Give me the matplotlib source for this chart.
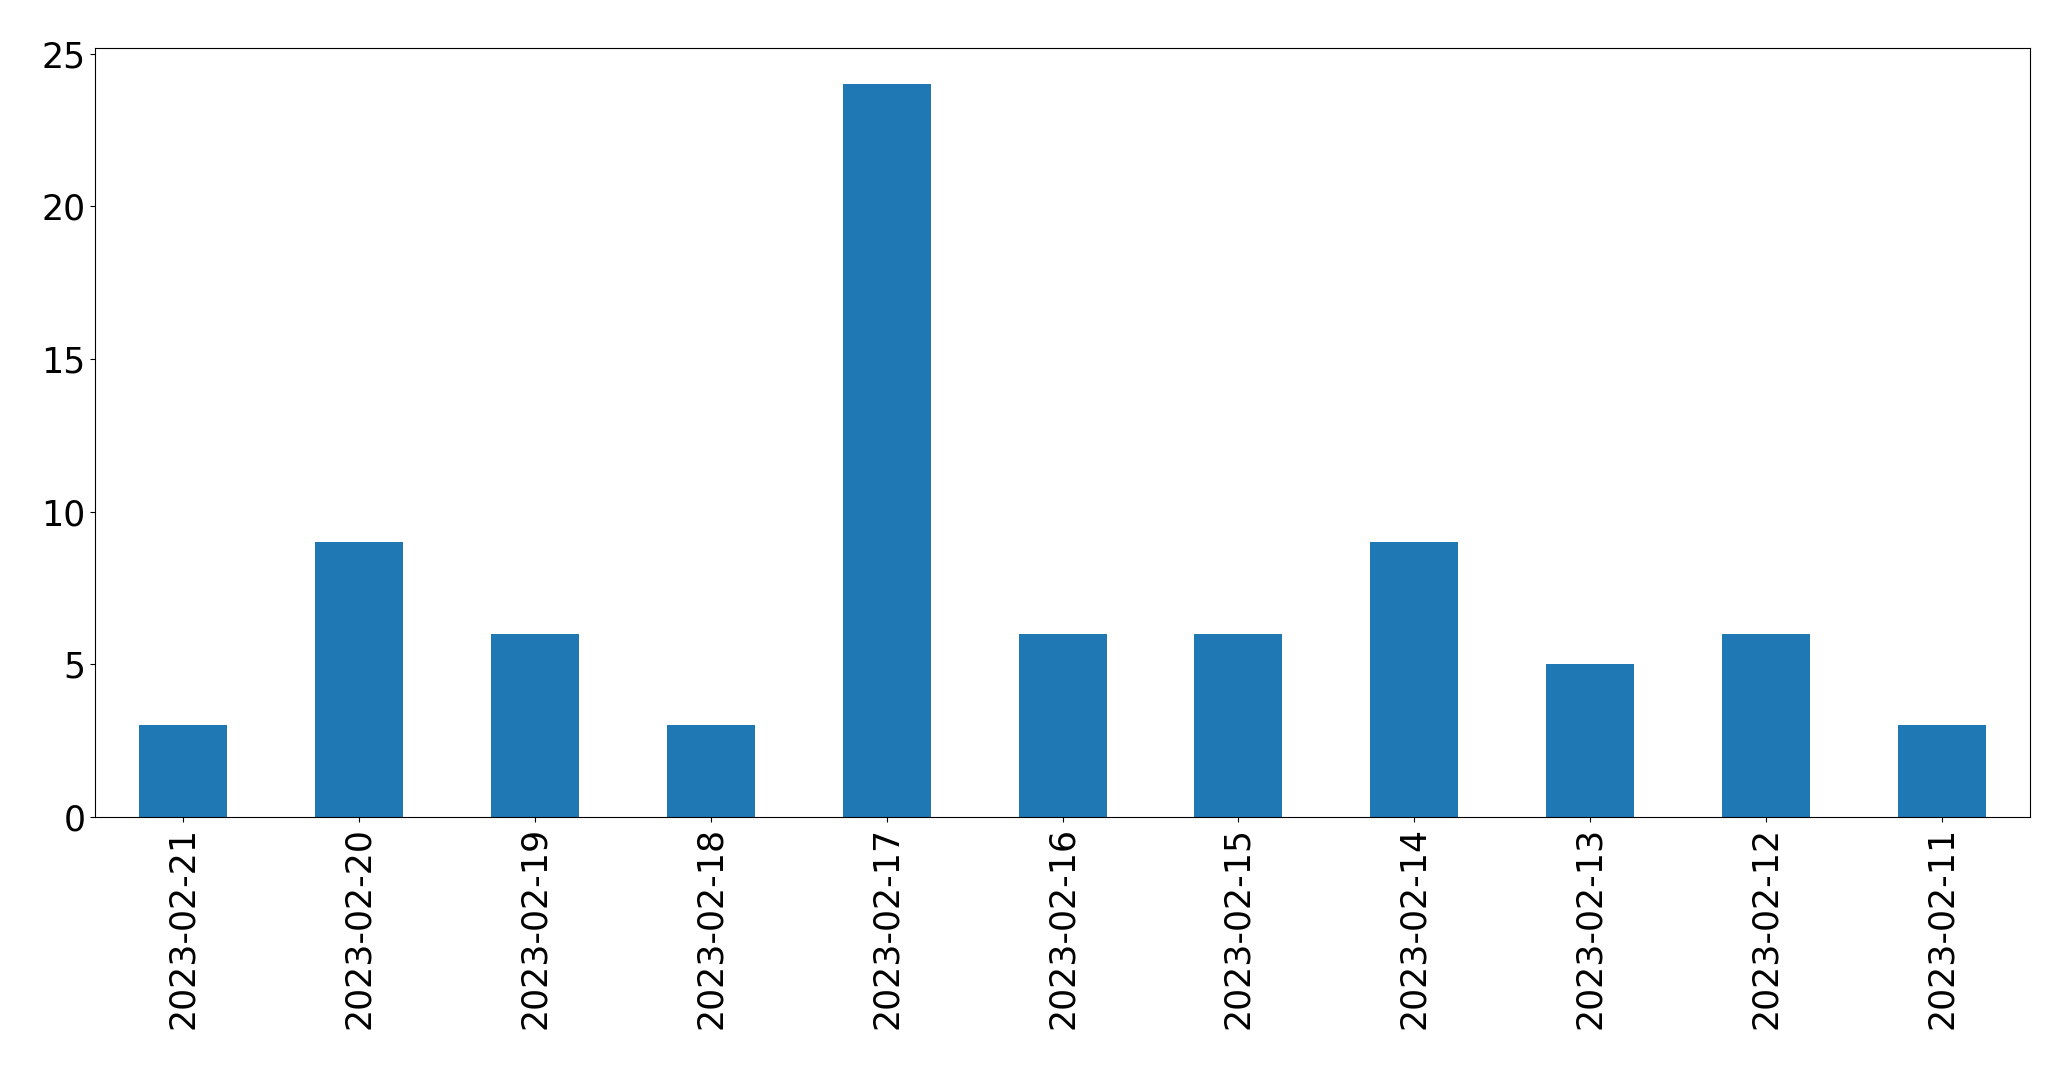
import matplotlib
matplotlib.use("Agg")
import matplotlib.pyplot as plt
import pandas as pd

# daily counts, newest first
dates = ['2023-02-21', '2023-02-20', '2023-02-19', '2023-02-18', '2023-02-17',
         '2023-02-16', '2023-02-15', '2023-02-14', '2023-02-13', '2023-02-12',
         '2023-02-11']
counts = [3, 9, 6, 3, 24, 6, 6, 9, 5, 6, 3]

series = pd.Series(counts, index=dates)

fig, ax = plt.subplots(figsize=(20.71, 10.69), dpi=100)
series.plot(kind='bar', ax=ax, color='#1f77b4', fontsize=25)
ax.set_yticks([0, 5, 10, 15, 20, 25])
ax.tick_params(axis='x', labelrotation=90)

fig.subplots_adjust(left=0.0459, right=0.9802, top=0.9554, bottom=0.2357)
fig.savefig('out.png', dpi=100)
